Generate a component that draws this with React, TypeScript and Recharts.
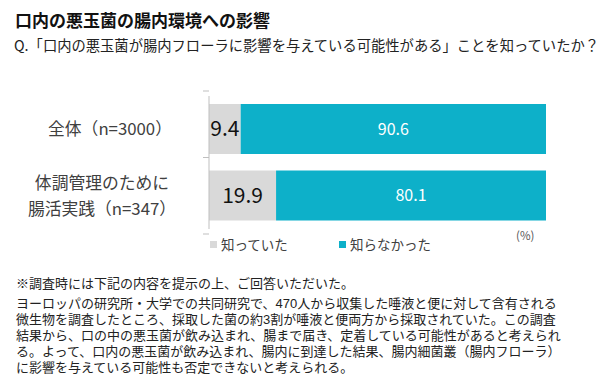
import React from "react";
import { BarChart, Bar, XAxis, YAxis, LabelList, Legend } from "recharts";

const categories = ["全体（n=3000）", "体調管理のために\n腸活実践（n=347）"];
const knewValues = [9.4, 19.9];
const notKnewValues = [90.6, 80.1];
const seriesNames = ["知っていた", "知らなかった"];
const seriesColors = ["#D9D9D9", "#0DB0C9"];

const titleText = "口内の悪玉菌の腸内環境への影響";
const questionText = "Q.「口内の悪玉菌が腸内フローラに影響を与えている可能性がある」ことを知っていたか？";
const noteHeader = "※調査時には下記の内容を提示の上、ご回答いただいた。";
const noteLines = [
  "ヨーロッパの研究所・大学での共同研究で、470人から収集した唾液と便に対して含有される",
  "微生物を調査したところ、採取した菌の約3割が唾液と便両方から採取されていた。この調査",
  "結果から、口の中の悪玉菌が飲み込まれ、腸まで届き、定着している可能性があると考えられ",
  "る。よって、口内の悪玉菌が飲み込まれ、腸内に到達した結果、腸内細菌叢（腸内フローラ）",
  "に影響を与えている可能性も否定できないと考えられる。",
];

const data = categories.map((c, i) => ({
  category: c,
  knew: knewValues[i],
  notKnew: notKnewValues[i],
}));

const FONT = '"Noto Sans CJK JP", "Noto Sans", sans-serif';
const NOTE_FONT = '"Liberation Sans", "Noto Sans CJK JP", sans-serif';
const BAND = 76.5;

const CategoryTick = (props: any) => {
  const { y, payload, index } = props;
  const lines = String(payload.value).split("\n");
  const lh = 26;
  const startY = y - ((lines.length - 1) * lh) / 2;
  const last = index === categories.length - 1;
  return (
    <g>
      <line x1={203} x2={209} y1={y - BAND / 2} y2={y - BAND / 2} stroke="#BFBFBF" />
      {last && <line x1={203} x2={209} y1={y + BAND / 2} y2={y + BAND / 2} stroke="#BFBFBF" />}
      {lines.map((l, i) => (
        <text
          key={i}
          x={lines.length > 1 ? 102 : 110}
          y={startY + i * lh}
          dy="0.36em"
          textAnchor="middle"
          fontSize={16.8}
          fill="#404040"
          fontFamily={FONT}
        >
          {l}
        </text>
      ))}
    </g>
  );
};

const renderLegend = () => (
  <div style={{ display: "flex", fontFamily: FONT, fontSize: 13.5, color: "#404040" }}>
    {seriesNames.map((n, i) => (
      <div key={n} style={{ display: "flex", alignItems: "center", width: i === 0 ? 129 : 100 }}>
        <span style={{ display: "inline-block", width: 7, height: 7, background: seriesColors[i], marginRight: 4 }} />
        <span>{n}</span>
      </div>
    ))}
  </div>
);

export default function App() {
  return (
    <div style={{ position: "absolute", left: 0, top: 0, width: 615, height: 391, background: "#fff", fontFamily: FONT }}>
      <div style={{ position: "absolute", left: 15, top: 10, fontSize: 17, fontWeight: 700, lineHeight: "20px", color: "#111", whiteSpace: "nowrap" }}>
        {titleText}
      </div>
      <div style={{ position: "absolute", left: 14, top: 36, fontSize: 14.3, lineHeight: "18px", color: "#222", whiteSpace: "nowrap" }}>
        {questionText}
      </div>
      <div style={{ position: "absolute", left: 0, top: 0 }}>
        <BarChart
          width={615}
          height={391}
          data={data}
          layout="vertical"
          margin={{ top: 76, right: 69, bottom: 162, left: 0 }}
          barSize={50}
        >
          <XAxis type="number" domain={[0, 100]} hide />
          <YAxis
            type="category"
            dataKey="category"
            width={209}
            tickLine={false}
            axisLine={{ stroke: "#BFBFBF" }}
            tick={<CategoryTick />}
            interval={0}
          />
          <Legend
            verticalAlign="top"
            align="left"
            wrapperStyle={{ position: "absolute", left: 210, top: 234, width: 300 }}
            content={renderLegend}
          />
          <Bar dataKey="knew" name={seriesNames[0]} stackId="a" fill={seriesColors[0]} isAnimationActive={false}>
            <LabelList dataKey="knew" position="center" fill="#111" fontSize={21} fontFamily={FONT} />
          </Bar>
          <Bar dataKey="notKnew" name={seriesNames[1]} stackId="a" fill={seriesColors[1]} isAnimationActive={false}>
            <LabelList dataKey="notKnew" position="center" fill="#fff" fontSize={16} fontFamily={FONT} />
          </Bar>
        </BarChart>
      </div>
      <div style={{ position: "absolute", left: 516, top: 227, fontSize: 11.5, color: "#595959", whiteSpace: "nowrap" }}>
        (%)
      </div>
      <div style={{ position: "absolute", left: 16, top: 274, fontSize: 13, lineHeight: "18px", color: "#222", whiteSpace: "nowrap" }}>
        {noteHeader}
      </div>
      <div style={{ position: "absolute", left: 16, top: 296, fontSize: 13, lineHeight: "16px", color: "#222", whiteSpace: "nowrap", fontFamily: NOTE_FONT }}>
        {noteLines.map((l) => (
          <div key={l} style={{ height: 16 }}>{l}</div>
        ))}
      </div>
    </div>
  );
}
